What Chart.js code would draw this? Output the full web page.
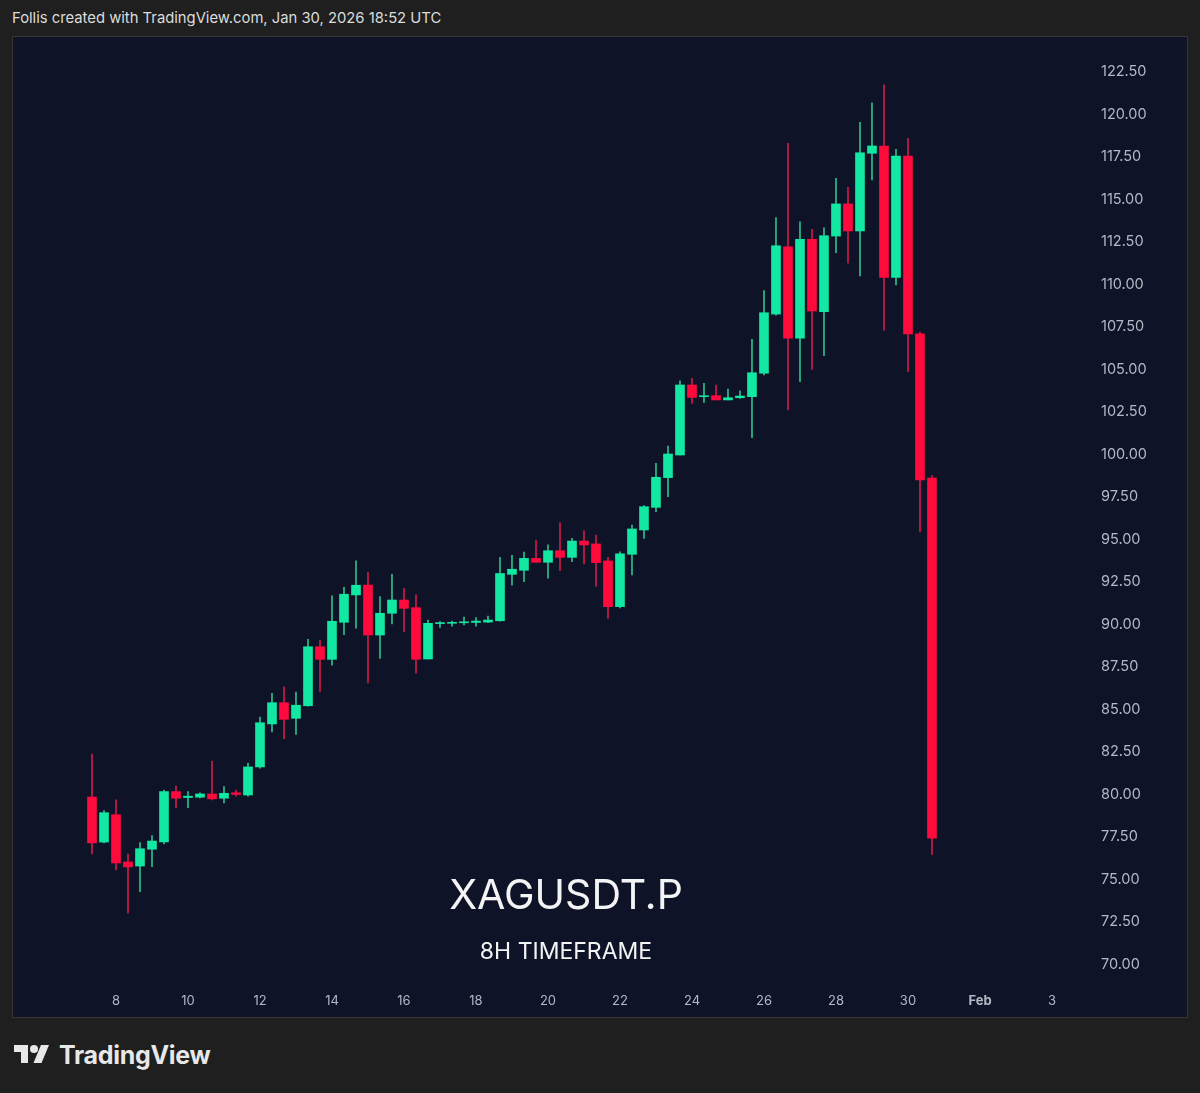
<!DOCTYPE html>
<html>
<head>
  <meta charset="UTF-8">
  <title>XAGUSDT.P 8H</title>
  <script src="https://cdn.jsdelivr.net/npm/chart.js"></script>
  <style>
    html, body {
      margin: 0;
      padding: 0;
      background: #1f1f1f;
    }
    body {
      width: 1200px;
      height: 1093px;
      position: relative;
      overflow: hidden;
      font-family: Inter, 'Noto Sans', sans-serif;
    }
    #caption {
      position: absolute;
      left: 12px;
      top: 9px;
      color: #dcdcdc;
      font-size: 14.8px;
    }
    #panel {
      position: absolute;
      left: 12px;
      top: 36px;
      width: 1174px;
      height: 980px;
      border: 1px solid #363636;
      background: #0e1328;
    }
    #logo {
      position: absolute;
      left: 14px;
      top: 1040px;
      display: flex;
      align-items: center;
      gap: 9px;
      color: #e8e8e8;
      font-weight: 700;
      font-size: 25px;
      letter-spacing: -0.3px;
    }
  </style>
</head>
<body>

  <div id="caption">Follis created with TradingView.com, Jan 30, 2026 18:52 UTC</div>
  <div id="panel">
    <canvas id="candles"></canvas>
  </div>
  <div id="logo">
    <svg width="36" height="28" viewBox="0 0 36 28">
      <path d="M14 22H7V11H0V4h14v18z" fill="#e8e8e8"/>
      <circle cx="20" cy="8" r="4" fill="#e8e8e8"/>
      <path d="M27 4h8l-7.5 18h-8z" fill="#e8e8e8"/>
    </svg>
    <span>TradingView</span>
  </div>

  <script>
    // 8H candles, open time in UTC
    const times = [
      '2026-01-07T08:00Z', '2026-01-07T16:00Z',
      '2026-01-08T00:00Z', '2026-01-08T08:00Z', '2026-01-08T16:00Z',
      '2026-01-09T00:00Z', '2026-01-09T08:00Z', '2026-01-09T16:00Z',
      '2026-01-10T00:00Z', '2026-01-10T08:00Z', '2026-01-10T16:00Z',
      '2026-01-11T00:00Z', '2026-01-11T08:00Z', '2026-01-11T16:00Z',
      '2026-01-12T00:00Z', '2026-01-12T08:00Z', '2026-01-12T16:00Z',
      '2026-01-13T00:00Z', '2026-01-13T08:00Z', '2026-01-13T16:00Z',
      '2026-01-14T00:00Z', '2026-01-14T08:00Z', '2026-01-14T16:00Z',
      '2026-01-15T00:00Z', '2026-01-15T08:00Z', '2026-01-15T16:00Z',
      '2026-01-16T00:00Z', '2026-01-16T08:00Z', '2026-01-16T16:00Z',
      '2026-01-17T00:00Z', '2026-01-17T08:00Z', '2026-01-17T16:00Z',
      '2026-01-18T00:00Z', '2026-01-18T08:00Z', '2026-01-18T16:00Z',
      '2026-01-19T00:00Z', '2026-01-19T08:00Z', '2026-01-19T16:00Z',
      '2026-01-20T00:00Z', '2026-01-20T08:00Z', '2026-01-20T16:00Z',
      '2026-01-21T00:00Z', '2026-01-21T08:00Z', '2026-01-21T16:00Z',
      '2026-01-22T00:00Z', '2026-01-22T08:00Z', '2026-01-22T16:00Z',
      '2026-01-23T00:00Z', '2026-01-23T08:00Z', '2026-01-23T16:00Z',
      '2026-01-24T00:00Z', '2026-01-24T08:00Z', '2026-01-24T16:00Z',
      '2026-01-25T00:00Z', '2026-01-25T08:00Z', '2026-01-25T16:00Z',
      '2026-01-26T00:00Z', '2026-01-26T08:00Z', '2026-01-26T16:00Z',
      '2026-01-27T00:00Z', '2026-01-27T08:00Z', '2026-01-27T16:00Z',
      '2026-01-28T00:00Z', '2026-01-28T08:00Z', '2026-01-28T16:00Z',
      '2026-01-29T00:00Z', '2026-01-29T08:00Z', '2026-01-29T16:00Z',
      '2026-01-30T00:00Z', '2026-01-30T08:00Z', '2026-01-30T16:00Z'
    ];

    const opens = [
      79.85, 77.20,
      78.81, 76.03, 75.79,
      76.78, 77.21, 80.17,
      79.82, 79.84, 80.03,
      79.78, 80.10, 79.97,
      81.62, 84.15, 85.40,
      84.48, 85.22, 88.69,
      87.95, 90.13, 91.74,
      92.32, 89.38, 90.66,
      91.44, 90.99, 87.97,
      90.05, 90.07, 90.10,
      90.12, 90.14, 90.22,
      92.95, 93.19, 93.89,
      93.66, 94.34, 93.95,
      94.91, 94.74, 93.74,
      91.05, 94.13, 95.56,
      96.89, 98.64, 99.97,
      104.09, 103.40, 103.46,
      103.21, 103.34, 103.40,
      104.78, 108.26, 112.22,
      106.84, 112.66, 108.40,
      112.85, 114.74, 113.15,
      117.72, 118.15, 110.42,
      117.56, 107.10, 98.61
    ];

    const highs = [
      82.38, 79.05,
      79.68, 76.50, 77.17,
      77.58, 80.26, 80.50,
      80.17, 80.10, 81.97,
      80.46, 80.26, 81.85,
      84.56, 85.95, 86.34,
      86.03, 89.13, 89.09,
      91.68, 92.19, 93.75,
      93.07, 91.64, 92.95,
      92.13, 91.74, 90.26,
      90.17, 90.20, 90.44,
      90.40, 90.50, 93.95,
      94.07, 94.26, 94.93,
      94.68, 96.00, 95.07,
      95.52, 95.26, 93.95,
      94.28, 95.85, 97.00,
      99.48, 100.50, 104.34,
      104.48, 104.19, 104.09,
      103.85, 103.75, 106.78,
      109.64, 113.93, 118.31,
      113.69, 113.25, 113.34,
      116.25, 115.72, 119.54,
      120.69, 121.74, 117.95,
      118.60, 107.20, 98.76
    ];

    const lows = [
      76.50, 77.15,
      75.56, 73.03, 74.28,
      75.75, 77.09, 79.22,
      79.22, 79.80, 79.68,
      79.50, 79.90, 79.90,
      81.55, 83.68, 83.28,
      83.54, 85.20, 86.07,
      87.60, 89.40, 89.79,
      86.56, 88.01, 90.03,
      89.58, 87.13, 87.97,
      89.83, 89.90, 89.97,
      89.90, 90.10, 90.20,
      92.32, 92.52, 93.66,
      92.72, 93.17, 93.70,
      93.56, 92.26, 90.36,
      90.97, 92.91, 95.07,
      96.63, 97.52, 99.97,
      103.01, 103.07, 103.21,
      103.21, 103.30, 100.99,
      104.68, 108.20, 102.62,
      104.28, 105.01, 105.81,
      111.87, 111.25, 110.50,
      116.15, 107.32, 109.97,
      104.87, 95.44, 76.47
    ];

    const closes = [
      77.15, 78.93,
      75.97, 75.74, 76.81,
      77.26, 80.17, 79.78,
      79.90, 80.03, 79.74,
      80.07, 80.00, 81.62,
      84.22, 85.40, 84.42,
      85.25, 88.69, 87.95,
      90.19, 91.78, 92.31,
      89.38, 90.66, 91.44,
      90.95, 87.95, 90.07,
      90.10, 90.10, 90.15,
      90.20, 90.26, 93.00,
      93.25, 93.89, 93.66,
      94.34, 93.95, 94.91,
      94.68, 93.64, 91.05,
      94.16, 95.62, 96.93,
      98.66, 100.03, 104.09,
      103.36, 103.42, 103.21,
      103.34, 103.44, 104.81,
      108.34, 112.28, 106.84,
      112.66, 108.44, 112.87,
      114.74, 113.15, 117.75,
      118.15, 110.42, 117.56,
      107.09, 98.50, 77.43
    ];

    // x axis: day of month (Feb 1 = 32)
    const xTicks = [8, 10, 12, 14, 16, 18, 20, 22, 24, 26, 28, 30, 32, 34];
    const xTickLabels = ['8', '10', '12', '14', '16', '18', '20', '22', '24', '26', '28', '30', 'Feb', '3'];
    const yTicks = [70, 72.5, 75, 77.5, 80, 82.5, 85, 87.5, 90, 92.5, 95, 97.5, 100,
                    102.5, 105, 107.5, 110, 112.5, 115, 117.5, 120, 122.5];

    const UP = '#12e8a2';
    const DOWN = '#ff0a3d';
    const UP_WICK = '#2cbf8c';
    const DOWN_WICK = '#cf1a48';
    const AXIS_TEXT = '#b4b8c4';

    const dayOf = t => (Date.parse(t) - Date.parse('2026-01-01T00:00Z')) / 864e5 + 1;
    const xs = times.map(dayOf);
    const isUp = opens.map((o, i) => closes[i] >= o);

    const bodies = xs.map((x, i) => ({ x: x, y: [opens[i], closes[i]] }));
    const wicks = xs.map((x, i) => ({ x: x, y: [lows[i], highs[i]] }));

    const watermark = {
      id: 'watermark',
      beforeDatasetsDraw(chart) {
        const c = chart.ctx;
        c.save();
        c.fillStyle = '#f4f4f4';
        c.textAlign = 'center';
        c.textBaseline = 'middle';
        c.font = '41px Inter, sans-serif';
        c.fillText('XAGUSDT.P', 553, 860);
        c.font = '23px Inter, sans-serif';
        c.fillText('8H TIMEFRAME', 553, 915);
        c.restore();
      }
    };

    const ctx = document.getElementById('candles').getContext('2d');
    new Chart(ctx, {
      type: 'bar',
      data: {
        datasets: [
          {
            label: 'body',
            data: bodies,
            backgroundColor: isUp.map(u => u ? UP : DOWN),
            borderWidth: 0,
            barThickness: 9,
            minBarLength: 1,
            grouped: false
          },
          {
            label: 'wick',
            data: wicks,
            backgroundColor: isUp.map(u => u ? UP_WICK : DOWN_WICK),
            borderWidth: 0,
            barThickness: 1,
            grouped: false
          }
        ]
      },
      options: {
        responsive: true,
        maintainAspectRatio: false,
        animation: false,
        layout: { padding: 0, autoPadding: false },
        plugins: {
          legend: { display: false },
          tooltip: { enabled: false }
        },
        scales: {
          x: {
            type: 'linear',
            offset: false,
            min: 5.139,
            max: 35.056,
            grid: { display: false, drawTicks: false, offset: false },
            border: { display: false },
            afterBuildTicks: s => { s.ticks = xTicks.map(v => ({ value: v })); },
            afterFit: s => {
              s.height = 34;
              s.paddingLeft = 0;
              s.paddingRight = 0;
            },
            ticks: {
              autoSkip: false,
              maxRotation: 0,
              padding: 10,
              color: AXIS_TEXT,
              font: c => ({
                family: 'Inter, sans-serif',
                size: 13,
                weight: (c.tick && c.tick.value === 32) ? 'bold' : 'normal'
              }),
              callback: v => xTickLabels[xTicks.indexOf(v)]
            }
          },
          y: {
            position: 'right',
            min: 68.91,
            max: 124.56,
            grid: { display: false, drawTicks: false },
            border: { display: false },
            afterBuildTicks: s => { s.ticks = yTicks.map(v => ({ value: v })); },
            afterFit: s => {
              s.width = 97;
              s.paddingTop = 0;
              s.paddingBottom = 0;
            },
            ticks: {
              padding: 11,
              color: AXIS_TEXT,
              font: { family: 'Inter, sans-serif', size: 14.5 },
              callback: v => v.toFixed(2)
            }
          }
        }
      },
      plugins: [watermark]
    });
  </script>

</body>
</html>
